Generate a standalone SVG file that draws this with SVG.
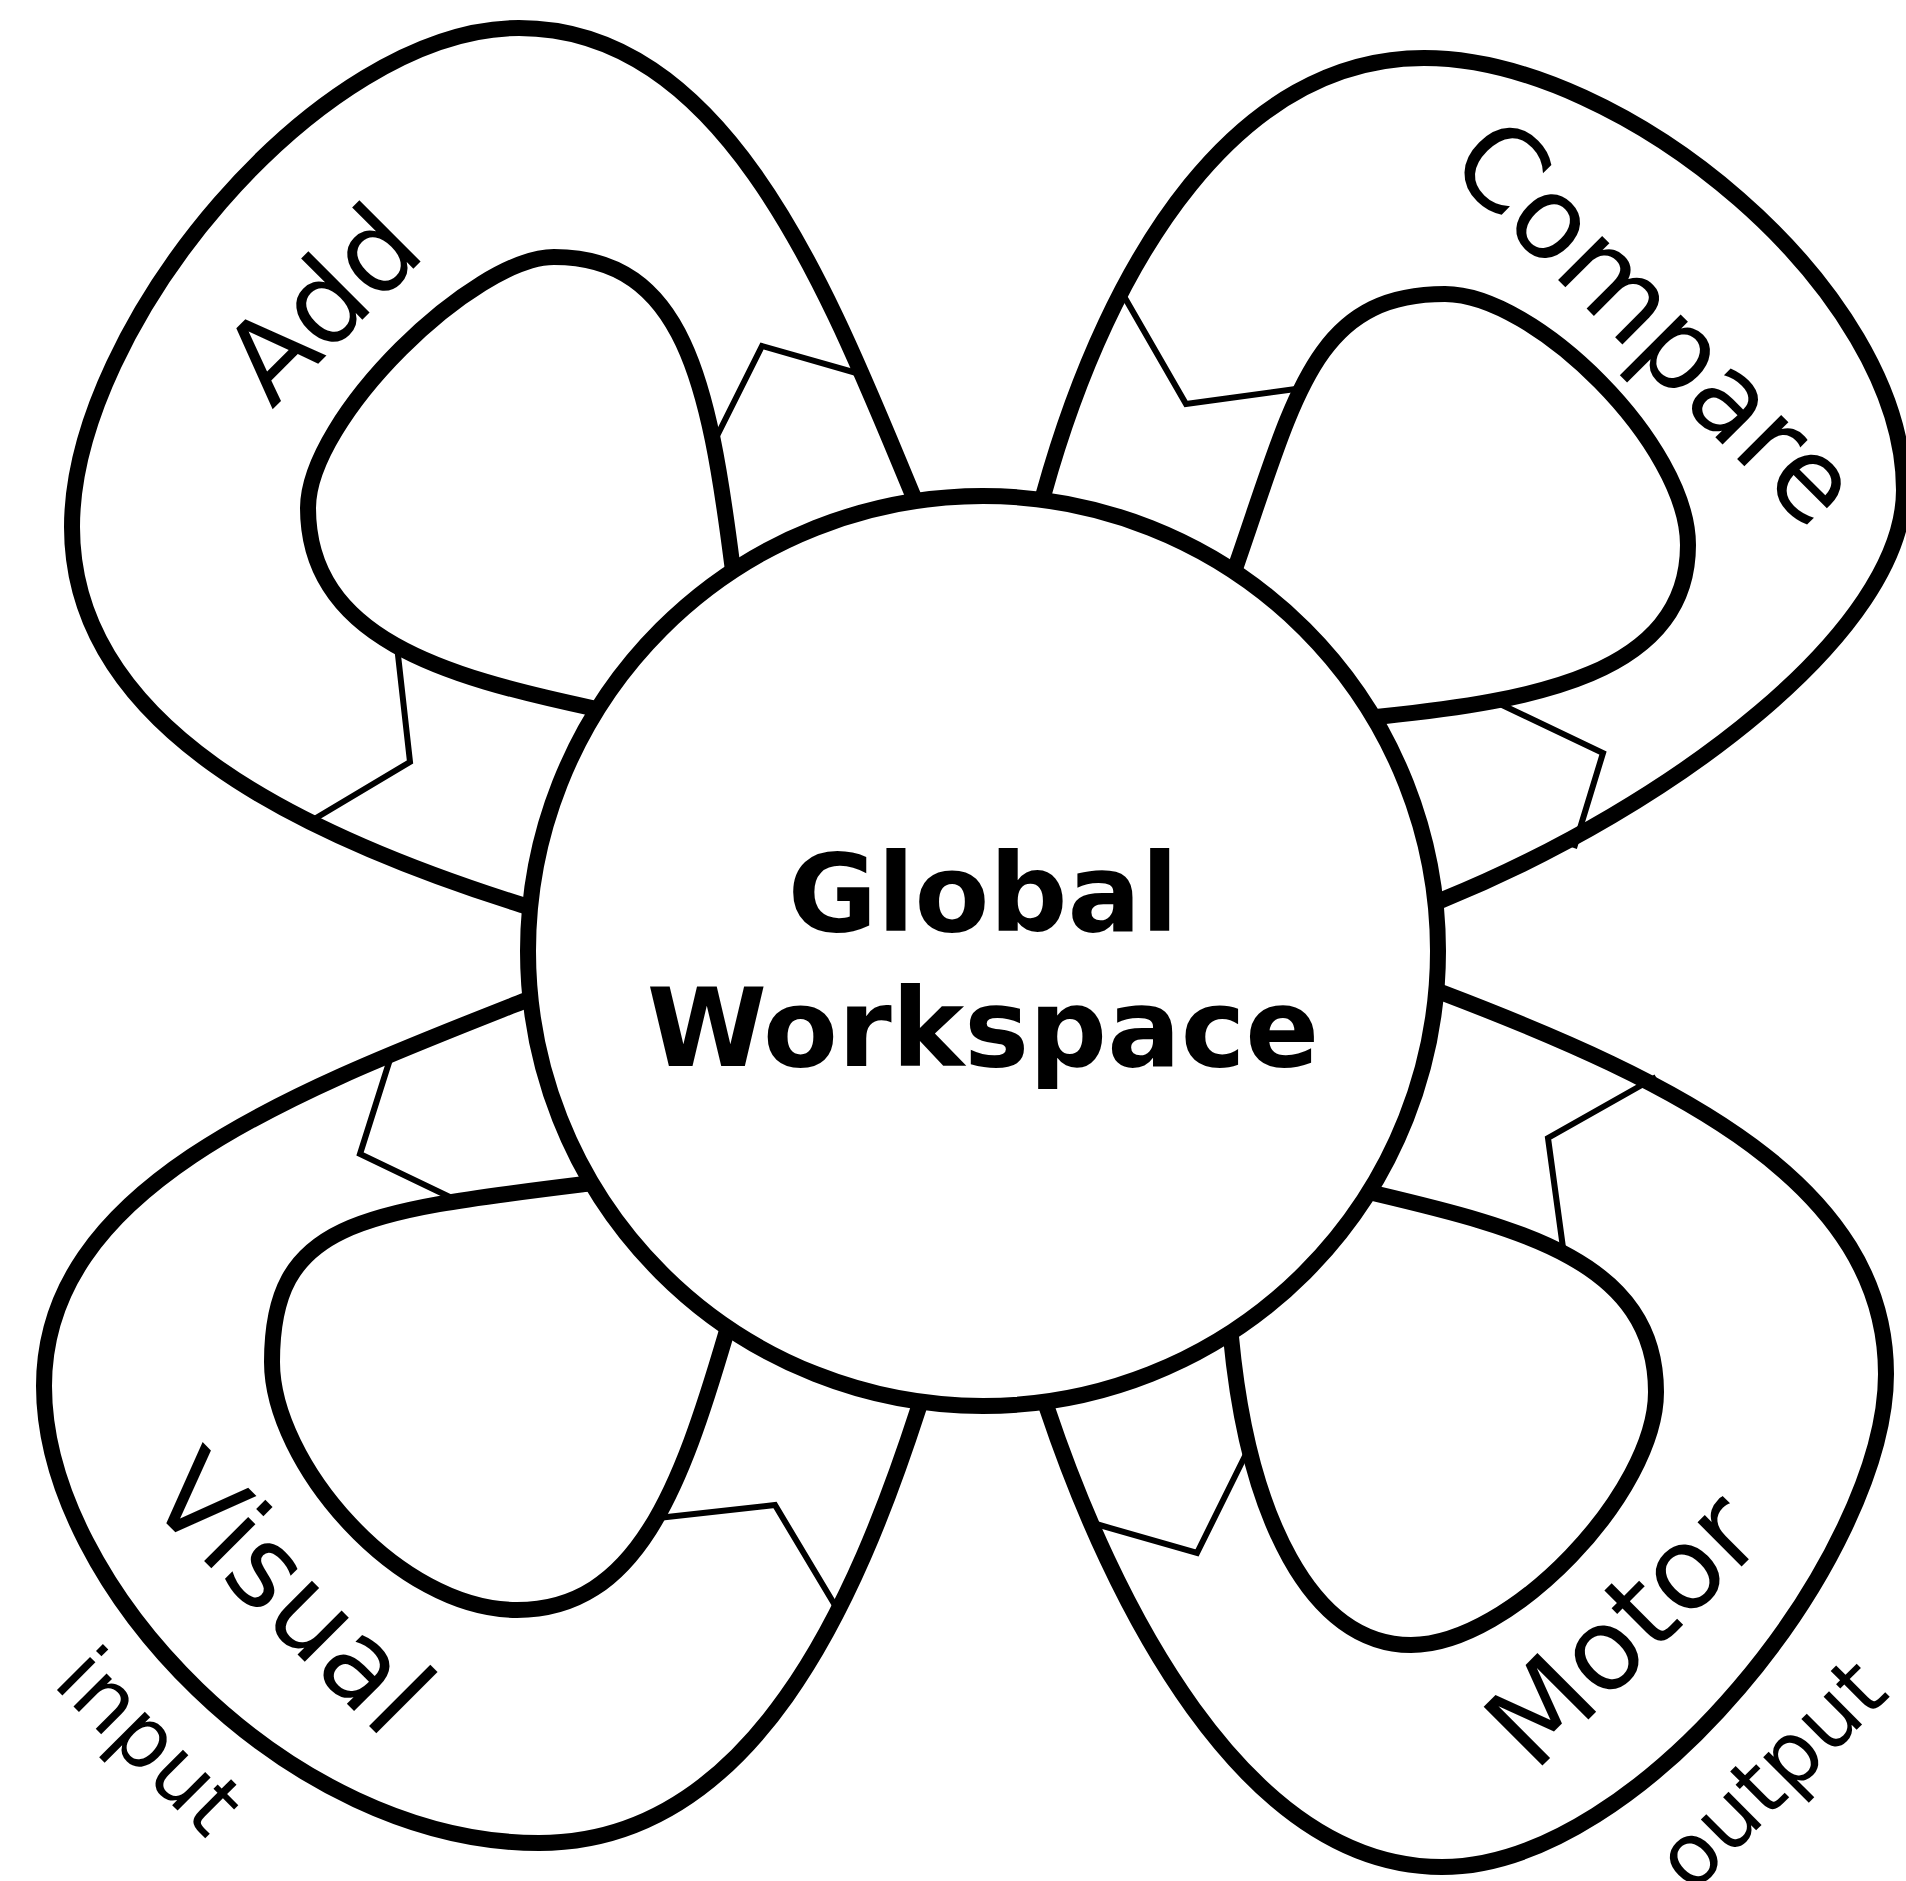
<svg xmlns="http://www.w3.org/2000/svg" width="1906" height="1881" viewBox="0 0 1906 1881">
<style>
.thick{fill:none;stroke:#000;stroke-width:16;stroke-linecap:butt;stroke-linejoin:round}
.thin{fill:none;stroke:#000;stroke-width:6;stroke-linejoin:miter}
.hub{fill:#fff;stroke:#000;stroke-width:16}
.title{font-family:"DejaVu Sans",sans-serif;font-weight:bold;font-size:109px;text-anchor:middle}
.lbl{font-family:"DejaVu Sans",sans-serif;font-size:114px;text-anchor:middle}
.sm{font-family:"DejaVu Sans",sans-serif;font-size:85.5px;text-anchor:middle}
</style>
<rect width="1906" height="1881" fill="#fff"/>
<g id="add">
<path class="thick" d="M536,910 L522,905 C300,835 72,727 72,527 C72,327 319,28 519,28 C729,28 831,299 912,493 L918,507"/>
<path class="thick" d="M734,578 L732,563 C709,384 684,257 554,257 C474,257 308,418 308,508 C308,638 445,676.5 592,708 L607,711"/>
<text class="lbl" transform="translate(350,332) rotate(-45)">Add</text>
</g>
<g id="compare">
<path class="thick" d="M1040,507 L1044,493 C1111,252 1240,58 1424,58 C1624,58 1904,290 1904,490 C1904,630 1673.5,805.75 1442,900 L1428,906"/>
<path class="thick" d="M1232,577 L1237,563 C1296,393 1315,294 1445,294 C1535,294 1688,445 1688,545 C1688,675 1530,701 1381,716.5 L1366,718"/>
<text class="lbl" transform="translate(1628,350) rotate(45)">Compare</text>
</g>
<g id="visual">
<path class="thick" d="M538,995.5 L524,1001 C291.5,1092.5 44,1186 44,1386 C44,1586 289,1843 539,1843 C754,1843 857,1598 918.6,1408 L923,1394"/>
<path class="thick" d="M600,1182 L585,1184 C357,1212 272,1222 272,1362 C272,1462 397,1610 517,1610 C637,1610 681,1487 726,1334 L730,1320"/>
<text class="lbl" transform="translate(263.5,1620.5) rotate(45)">Visual</text>
<text class="sm" transform="translate(129,1762) rotate(45)">input</text>
</g>
<g id="motor">
<path class="thick" d="M1042,1394 L1047,1408 C1110.6,1597.6 1242,1867 1442,1867 C1642,1867 1886,1554 1886,1374 C1886,1184 1676.5,1082 1443,993 L1429,988"/>
<path class="thick" d="M1229.6,1322 L1231,1337 C1248,1516 1311,1645 1411,1645 C1511,1645 1656,1492 1656,1392 C1656,1262 1521,1228 1375,1193.5 L1360,1190"/>
<text class="lbl" transform="translate(1651,1657) rotate(-45)">Motor</text>
<text class="sm" transform="translate(1791.5,1795) rotate(-45)">output</text>
</g>
<g id="connectors">
<path class="thin" d="M860,374 L762,346 L716,438"/>
<path class="thin" d="M397,646 L410,762 L306,824"/>
<path class="thin" d="M1125,298 L1186,404 L1303,388"/>
<path class="thin" d="M1500,704 L1603,753 L1574,848"/>
<path class="thin" d="M392,1053 L360,1154 L456,1200"/>
<path class="thin" d="M658,1518 L775,1505 L836,1607"/>
<path class="thin" d="M1656,1077 L1548,1138 L1564,1255"/>
<path class="thin" d="M1246,1454 L1197,1553 L1096,1524"/>
</g>
<g id="global-workspace">
<circle class="hub" cx="983" cy="951" r="455"/>
<text class="title" x="983" y="931">Global</text>
<text class="title" x="983" y="1066">Workspace</text>
</g>
</svg>
